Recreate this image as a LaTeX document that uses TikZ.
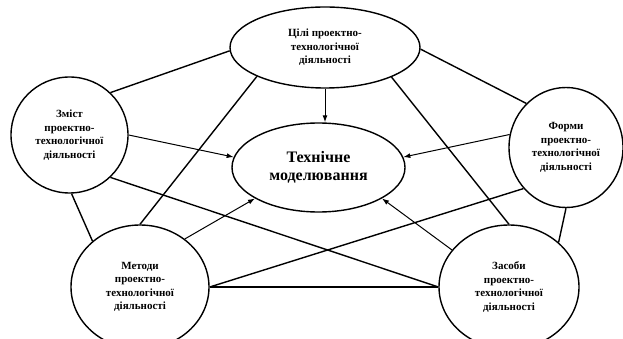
\documentclass[tikz,border=0pt]{standalone}
\usepackage{fontspec}
\setmainfont{Liberation Serif}
\usetikzlibrary{arrows.meta, shapes.geometric}

\begin{document}
\begin{tikzpicture}[x=1pt, y=-1pt, >={Latex[length=7pt, width=5pt]},
		part/.style={ellipse, draw, line width=1.4pt, inner sep=0pt, align=center,
			font=\bfseries\fontsize{11}{13.5}\selectfont},
		link/.style={line width=1.4pt},
		feed/.style={->, line width=1pt}]
		
		% Fix the page to the size of the figure
		\clip (0,0) rectangle (623,339);
		
		% Draw the central node
		\node[part, minimum width=173pt, minimum height=89pt,
			font=\bfseries\fontsize{16}{18}\selectfont] (model) at (318.5,167.5) {Технічне\\моделювання};
		
		% Draw the five surrounding nodes
		\node[part, minimum width=190pt, minimum height=81pt] (goals) at (325,47.5) {Цілі проектно-\\технологічної\\діяльності};
		\node[part, minimum width=117pt, minimum height=116pt] (content) at (69.5,135) {Зміст\\проектно-\\технологічної\\діяльності};
		\node[part, minimum width=114pt, minimum height=120pt] (forms) at (566,147.5) {Форми\\проектно-\\технологічної\\діяльності};
		\node[part, minimum width=138pt, minimum height=124pt] (methods) at (140,287) {Методи\\проектно-\\технологічної\\діяльності};
		\node[part, minimum width=140pt, minimum height=124pt] (means) at (509,287) {Засоби\\проектно-\\технологічної\\діяльності};
		
		% Draw the links between the surrounding nodes
		\draw[link] (goals.182) -- (content.46);
		\draw[link] (goals.-1) -- (forms.132);
		\draw[link] (goals.203) -- (methods.90);
		\draw[link] (goals.-24) -- (means.90);
		\draw[link] (content.-88) -- (methods.136);
		\draw[link] (content.-46) -- (means.180);
		\draw[link] (forms.224) -- (methods.0);
		\draw[link] (forms.-90) -- (means.42);
		\draw[link] (methods.0) -- (means.180);
		
		% Draw the arrows into the central node
		\draw[feed] (goals) -- (goals |- model.north);
		\draw[feed] (content.0) -- (model.173);
		\draw[feed] (forms.167) -- (model.7);
		\draw[feed] (methods.47) -- (model.206);
		\draw[feed] (means.147) -- (model.-26);
		
	\end{tikzpicture}
\end{document}
